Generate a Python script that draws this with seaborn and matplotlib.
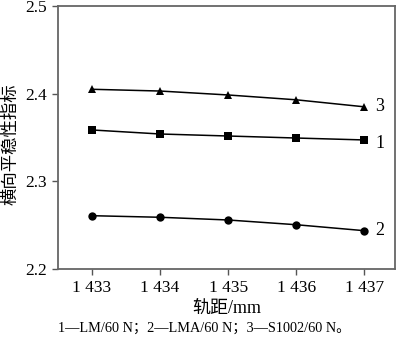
import matplotlib
matplotlib.use("Agg")
import matplotlib.pyplot as plt
import seaborn as sns
import pandas as pd

# Track gauge (mm) and lateral ride index for three wheel profiles
gauge = [1433, 1434, 1435, 1436, 1437]
lm = [2.3586, 2.3540, 2.3517, 2.3494, 2.3472]
lma = [2.2608, 2.2590, 2.2559, 2.2505, 2.2437]
s1002 = [2.4050, 2.4030, 2.3985, 2.3930, 2.3850]
series_names = ["1", "2", "3"]
xtick_labels = ["1 433", "1 434", "1 435", "1 436", "1 437"]
yticks = [2.2, 2.3, 2.4, 2.5]

df = pd.DataFrame({
    "gauge": gauge * 3,
    "value": lm + lma + s1002,
    "series": [series_names[0]] * 5 + [series_names[1]] * 5 + [series_names[2]] * 5,
})

sns.set_theme(style="ticks")
plt.rcParams["font.family"] = ["Liberation Serif", "Noto Sans CJK SC"]
plt.rcParams["axes.unicode_minus"] = False

fig = plt.figure(figsize=(4.0, 3.38), dpi=100)
ax = fig.add_axes([58 / 400, 1 - 269 / 338, (395 - 58) / 400, (269 - 6) / 338])

sns.lineplot(
    data=df, x="gauge", y="value", hue="series", style="series",
    palette={"1": "black", "2": "black", "3": "black"},
    markers={"1": "s", "2": "o", "3": "^"}, dashes=False,
    markersize=6, linewidth=1.1, markeredgewidth=0, legend=False, ax=ax,
)

ax.set_xlim(1432.5, 1437.45)
ax.set_ylim(2.2, 2.5)
ax.set_xticks(gauge)
ax.set_xticklabels(xtick_labels)
ax.set_yticks(yticks)
ax.set_yticklabels([f"{v:.1f}" for v in yticks])
ax.tick_params(axis="both", direction="out", length=4, width=1, color="#555555",
               labelsize=12.5, labelcolor="black", pad=4)
for sp in ax.spines.values():
    sp.set_visible(True)
    sp.set_color("#666666")
    sp.set_linewidth(1.3)

ax.set_xlabel("轨距/mm", fontsize=13, color="black", labelpad=3)
ylab = ax.set_ylabel("横向平稳性指标", fontsize=12.5, color="black",
                     family=["Noto Sans CJK SC"])
ylab.set_verticalalignment("center")
ax.yaxis.set_label_coords((10.5 - 58) / 337, (269 - 144) / 263)

# Curve labels at the right end of each line
ends = {"1": lm[-1] - 0.004, "2": lma[-1], "3": s1002[-1]}
for name, yv in ends.items():
    ax.annotate(name, xy=(gauge[-1], yv), xytext=(8, 0), textcoords="offset points",
                ha="left", va="center", fontsize=13, color="black")

fig.text(58 / 400, 1 - 328 / 338, "1—LM/60 N；2—LMA/60 N；3—S1002/60 N。",
         ha="left", va="center", fontsize=10.3, color="black")

fig.savefig("out.png", dpi=100)
